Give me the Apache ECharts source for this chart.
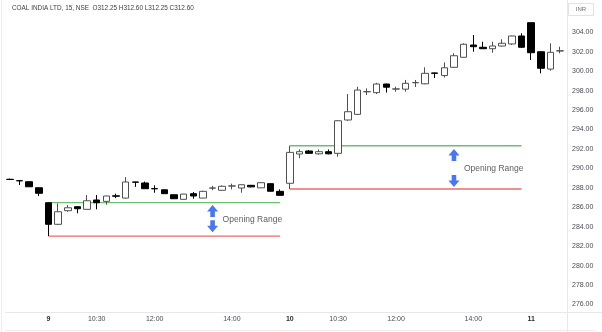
<!DOCTYPE html>
<html>
<head>
<meta charset="utf-8">
<script src="https://cdn.jsdelivr.net/npm/echarts@6/dist/echarts.min.js"></script>
<style>
html,body{margin:0;padding:0;background:#fff;}
#chart{width:602px;height:332px;}
</style>
</head>
<body>
<div id="chart"></div>
<script>
// ---- data ----
const titleText = 'COAL INDIA LTD, 15, NSE  O312.25 H312.60 L312.25 C312.60';
const unitText = 'INR';
const sessionTimes = ['09:15','09:30','09:45','10:00','10:15','10:30','10:45','11:00','11:15','11:30','11:45','12:00','12:15','12:30','12:45','13:00','13:15','13:30','13:45','14:00','14:15','14:30','14:45','15:00','15:15'];
const day8Times = ['14:30','14:45','15:00','15:15'];
const day11Times = ['09:15','09:30','09:45','10:00'];
const categories = day8Times.map(t => '8 ' + t)
  .concat(sessionTimes.map(t => '9 ' + t))
  .concat(sessionTimes.map(t => '10 ' + t))
  .concat(day11Times.map(t => '11 ' + t));
const tickLabels = {'9 09:15':'9','9 10:30':'10:30','9 12:00':'12:00','9 14:00':'14:00','10 09:15':'10','10 10:30':'10:30','10 12:00':'12:00','10 14:00':'14:00','11 09:15':'11'};
const dayLabels = ['9','10','11'];

const opens  = [288.88,288.74,288.63,288.01,286.47,284.25,285.65,286.06,285.79,286.75,286.61,287.18,286.95,288.60,288.50,287.92,287.80,287.29,286.82,287.40,286.95,287.97,287.75,288.18,287.98,288.26,288.00,288.43,287.64,
                288.47,291.48,291.79,291.50,291.72,291.55,294.98,295.56,297.88,297.79,298.68,298.16,298.15,298.81,298.70,299.82,299.55,300.40,301.43,302.69,302.46,302.31,302.59,302.80,303.62,
                304.99,302.00,300.22,302.08];
const closes = [288.86,288.72,288.11,287.44,284.25,285.54,285.95,285.85,286.67,286.47,287.16,287.14,288.60,288.58,287.91,287.90,287.40,286.88,287.36,287.16,287.64,287.99,288.16,288.20,288.32,288.10,288.53,287.65,287.23,
                291.65,291.72,291.55,291.72,291.50,294.90,295.83,298.06,297.90,298.68,298.35,298.18,298.75,298.83,299.78,299.78,300.35,301.59,302.77,302.52,302.31,302.59,302.87,303.62,302.46,
                301.90,300.30,301.94,302.10];
const lows   = [288.80,288.29,288.10,287.16,283.04,284.20,285.54,285.38,285.75,285.79,286.26,286.95,286.90,288.10,287.90,287.50,287.38,286.85,286.80,286.88,286.93,287.75,287.70,287.84,287.50,288.05,287.98,287.60,287.20,
                287.88,291.05,291.50,291.40,291.45,291.20,294.90,295.50,297.55,297.65,297.80,297.89,297.89,298.37,298.65,299.30,299.35,300.35,301.40,302.00,302.28,301.90,302.55,302.69,302.40,
                301.15,299.78,300.05,301.84];
const highs  = [288.95,288.76,288.65,288.02,286.47,286.40,286.23,286.10,287.26,287.26,287.18,287.40,289.10,288.62,288.65,288.26,287.82,287.30,287.38,287.57,287.70,288.20,288.25,288.43,288.35,288.30,288.56,288.45,287.85,
                292.33,291.96,291.90,291.95,291.95,294.95,297.65,298.40,298.23,298.80,298.72,298.40,299.10,299.10,300.40,299.85,300.90,301.85,302.87,303.72,303.03,303.03,303.28,303.65,303.90,
                305.00,302.05,302.87,302.52];

// opening range per day
const orStartIdx = [4, 29];
const orEndIdx   = [28, 53];
const orHigh     = [286.47, 292.33];
const orLow      = [283.04, 287.88];
const orLabel    = 'Opening Range';
const arrowIdx   = [21, 46];
const arrowUpY   = [285.62, 291.38];
const arrowDownY = [284.04, 288.70];
const labelY     = [284.69, 290.00];

const yMin = 276, yMax = 304, yStep = 2;

// ---- build ----
const candleData = opens.map((o, i) => [o, closes[i], lows[i], highs[i]]);
function rangeLine(k, val) {
  const arr = categories.map(() => null);
  for (let i = orStartIdx[k]; i <= orEndIdx[k]; i++) arr[i] = val;
  return arr;
}
const series = [{
  type: 'candlestick',
  data: candleData,
  clip: false,
  barWidth: 7,
  itemStyle: { color: '#ffffff', color0: '#000000', borderColor: '#505050', borderColor0: '#000000', borderWidth: 1 },
  z: 5
}];
orHigh.forEach((v, k) => {
  series.push({ type: 'line', data: rangeLine(k, v), showSymbol: false, symbol: 'none', silent: true,
    lineStyle: { color: '#6cbf6c', width: 1.3 }, z: 3 });
  series.push({ type: 'line', data: rangeLine(k, orLow[k]), showSymbol: false, symbol: 'none', silent: true,
    lineStyle: { color: '#f06a6a', width: 1.3 }, z: 3 });
});
const upPath = 'path://M6,0 L12,6.5 L8.5,6.5 L8.5,12 L3.5,12 L3.5,6.5 L0,6.5 Z';
const downPath = 'path://M3.5,0 L8.5,0 L8.5,5.5 L12,5.5 L6,12 L0,5.5 L3.5,5.5 Z';
series.push({ type: 'scatter', silent: true, symbol: upPath, symbolSize: [11, 12], itemStyle: { color: '#1a55f2' },
  data: arrowIdx.map((x, k) => [x, arrowUpY[k]]), z: 6 });
series.push({ type: 'scatter', silent: true, symbol: downPath, symbolSize: [11, 12], itemStyle: { color: '#1a55f2' },
  data: arrowIdx.map((x, k) => [x, arrowDownY[k]]), z: 6 });
series.push({ type: 'scatter', silent: true, symbolSize: 0,
  data: arrowIdx.map((x, k) => [x, labelY[k]]),
  label: { show: true, position: 'right', distance: 10, formatter: orLabel, color: '#333333', fontSize: 8.5, fontFamily: 'Liberation Sans' }, z: 6 });

const chart = echarts.init(document.getElementById('chart'), null, { renderer: 'canvas' });
chart.setOption({
  animation: false,
  backgroundColor: '#ffffff',
  title: { text: titleText, left: 12, top: 5, padding: 0, textStyle: { fontSize: 6.4, fontWeight: 'normal', color: '#3a3d47', fontFamily: 'Liberation Sans' } },
  grid: { left: 5, right: 37, top: 32.3, bottom: 27.5 },
  xAxis: {
    type: 'category', data: categories, boundaryGap: true,
    axisLine: { show: false }, axisTick: { show: false }, splitLine: { show: false },
    axisLabel: {
      interval: (i, v) => v in tickLabels,
      formatter: v => { const t = tickLabels[v] || ''; return dayLabels.indexOf(t) >= 0 ? '{d|' + t + '}' : t; },
      margin: 11, fontSize: 7, color: '#4a4d57', fontFamily: 'Liberation Sans',
      rich: { d: { fontSize: 7, color: '#2a2d37', fontWeight: 'bold', fontFamily: 'Liberation Sans' } }
    }
  },
  yAxis: {
    type: 'value', position: 'right', min: yMin, max: yMax, interval: yStep, scale: true,
    axisLine: { show: false }, axisTick: { show: false }, splitLine: { show: false },
    axisLabel: { formatter: v => v.toFixed(2), fontSize: 7, color: '#4a4d57', margin: 7, fontFamily: 'Liberation Sans' }
  },
  graphic: [
    { type: 'line', shape: { x1: 567.5, y1: 0, x2: 567.5, y2: 332 }, style: { stroke: '#e6e8ee', lineWidth: 1 }, silent: true },
    { type: 'line', shape: { x1: 5, y1: 312.5, x2: 602, y2: 312.5 }, style: { stroke: '#e6e8ee', lineWidth: 1 }, silent: true },
    { type: 'line', shape: { x1: 5, y1: 330.5, x2: 595, y2: 330.5 }, style: { stroke: '#eceef2', lineWidth: 1 }, silent: true },
    { type: 'line', shape: { x1: 1.5, y1: 0, x2: 1.5, y2: 332 }, style: { stroke: '#eceef2', lineWidth: 1 }, silent: true },
    { type: 'rect', shape: { x: 568.5, y: 3.5, width: 25, height: 12 }, style: { fill: '#ffffff', stroke: '#e0e3eb', lineWidth: 1 }, silent: true },
    { type: 'text', x: 581, y: 9.5, style: { text: unitText, fontSize: 6, fill: '#6a6d78', align: 'center', verticalAlign: 'middle', fontFamily: 'Liberation Sans' }, silent: true }
  ],
  series: series
});
</script>
</body>
</html>
